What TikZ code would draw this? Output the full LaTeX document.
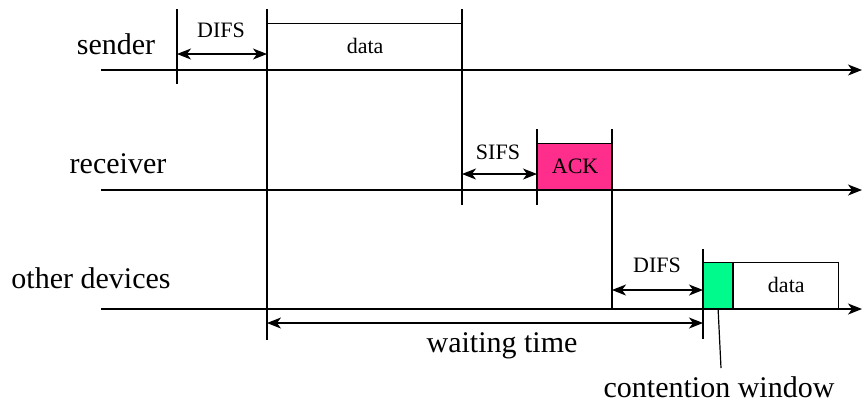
\documentclass[tikz,border=0pt]{standalone}
\usepackage{fontspec}
\setmainfont{Liberation Serif}
\usepackage{tikz}
\usetikzlibrary{arrows.meta,positioning,calc}
\usepackage{xcolor}
\definecolor{ackpink}{RGB}{255,45,140}
\definecolor{cwgreen}{RGB}{0,250,140}

\begin{document}
\begin{tikzpicture}[x=0.5pt, y=-0.5pt, line width=0.6pt,
    tip/.style={-{Stealth[length=7pt,width=5.5pt,inset=2pt]}},
    span/.style={{Stealth[length=7pt,width=5.5pt,inset=2pt]}-{Stealth[length=7pt,width=5.5pt,inset=2pt]}},
    frame/.style={draw, inner sep=0pt, anchor=south west, minimum height=23pt, font=\fontsize{11}{13}\selectfont},
    small/.style={font=\fontsize{11}{13}\selectfont, anchor=base, inner sep=0pt},
    big/.style={font=\fontsize{15}{18}\selectfont, anchor=base, inner sep=0pt}]
    \useasboundingbox (0,0) rectangle (862,404);

    % Time axes
    \coordinate (s0) at (101,70);  \coordinate (s1) at (862,70);
    \coordinate (r0) at (101,190); \coordinate (r1) at (862,190);
    \coordinate (o0) at (101,309); \coordinate (o1) at (862,309);
    \draw[tip] (s0) -- (s1);
    \draw[tip] (r0) -- (r1);
    \draw[tip] (o0) -- (o1);

    % Labels of the axes
    \node[big] (lsend) at (116,54) {sender};
    \node[big] (lrecv) at (118,173) {receiver};
    \node[big] (lother) at (91,288) {other devices};

    % Sender
    \node[frame, minimum width=97.5pt] (data1) at (267,70) {data};
    \draw (177,9) -- (177,84);
    \draw (267,9) -- (267,340);
    \draw (462,9) -- (462,205);
    \coordinate (d0) at (177,54); \coordinate (d1) at (267,54);
    \draw[span] (d0) -- (d1);
    \node[small] (difs1) at (221,37) {DIFS};

    % Receiver
    \node[frame, fill=ackpink, minimum width=37.5pt] (ack) at (537,190) {ACK};
    \draw (537,129) -- (537,205);
    \draw (612,129) -- (612,309);
    \coordinate (i0) at (462,174); \coordinate (i1) at (537,174);
    \draw[span] (i0) -- (i1);
    \node[small] (sifs) at (498,159) {SIFS};

    % Other devices
    \node[frame, fill=cwgreen, minimum width=14.5pt] (cw) at (703,309) {};
    \node[frame, minimum width=52.5pt] (data2) at (cw.south east) {data};
    \draw (703,249) -- (703,339);
    \coordinate (e0) at (612,290); \coordinate (e1) at (703,290);
    \draw[span] (e0) -- (e1);
    \node[small] (difs2) at (657,272) {DIFS};

    % Waiting time
    \coordinate (w0) at (267,323); \coordinate (w1) at (703,323);
    \draw[span] (w0) -- (w1);
    \node[big] (wait) at (502,352) {waiting time};

    % Contention window
    \node[big] (lcw) at (719,397) {contention window};
    \coordinate (c1) at (721,368);
    \draw (cw.south) -- (c1);
\end{tikzpicture}
\end{document}
